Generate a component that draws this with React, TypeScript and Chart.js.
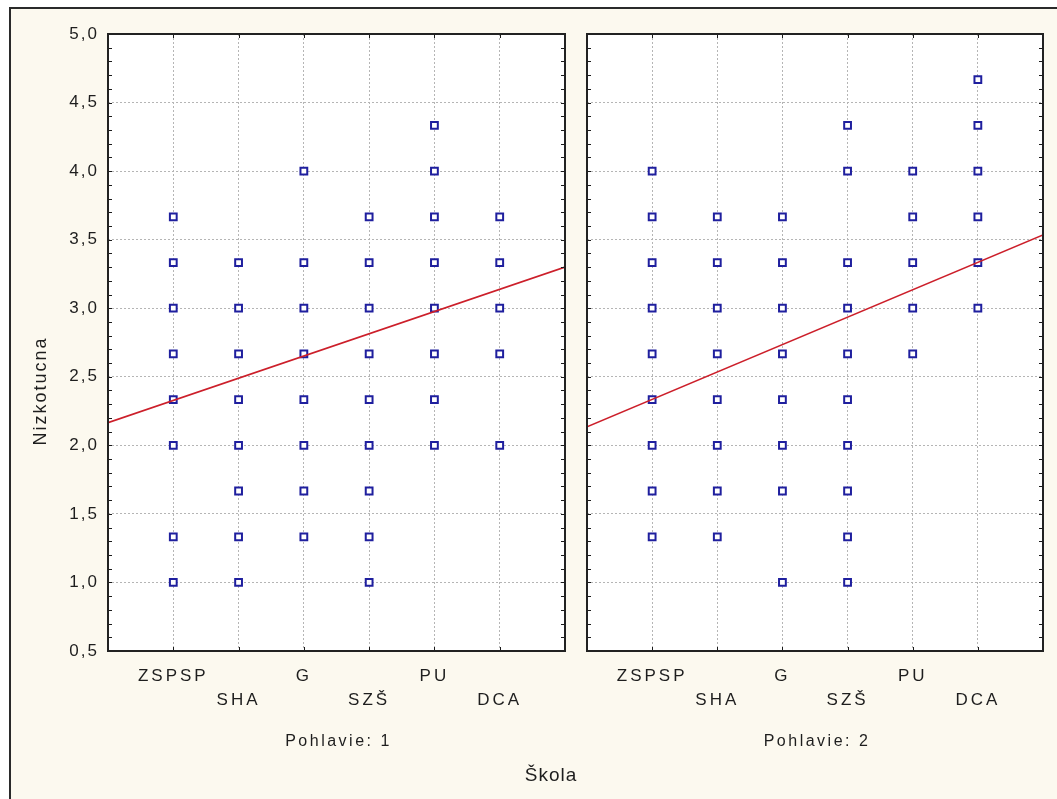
import React, { useEffect, useRef } from 'react';
import { Chart, registerables } from 'chart.js';

Chart.register(...registerables);

// School categories along the x axis (placed at 1..6 on a 0..7 linear scale)
const categories = ['ZSPSP', 'SHA', 'G', 'SZŠ', 'PU', 'DCA'];

// Y axis ticks
const yTickValues = [0.5, 1, 1.5, 2, 2.5, 3, 3.5, 4, 4.5, 5];
const yTickLabels = ['0,5', '1,0', '1,5', '2,0', '2,5', '3,0', '3,5', '4,0', '4,5', '5,0'];

// Nizkotucna scores observed in each school, Pohlavie: 1
const pohlavie1 = [
  [3.667, 3.333, 3.0, 2.667, 2.333, 2.0, 1.333, 1.0],
  [3.333, 3.0, 2.667, 2.333, 2.0, 1.667, 1.333, 1.0],
  [4.0, 3.333, 3.0, 2.667, 2.333, 2.0, 1.667, 1.333],
  [3.667, 3.333, 3.0, 2.667, 2.333, 2.0, 1.667, 1.333, 1.0],
  [4.333, 4.0, 3.667, 3.333, 3.0, 2.667, 2.333, 2.0],
  [3.667, 3.333, 3.0, 2.667, 2.0],
];

// Nizkotucna scores observed in each school, Pohlavie: 2
const pohlavie2 = [
  [4.0, 3.667, 3.333, 3.0, 2.667, 2.333, 2.0, 1.667, 1.333],
  [3.667, 3.333, 3.0, 2.667, 2.333, 2.0, 1.667, 1.333],
  [3.667, 3.333, 3.0, 2.667, 2.333, 2.0, 1.667, 1.0],
  [4.333, 4.0, 3.333, 3.0, 2.667, 2.333, 2.0, 1.667, 1.333, 1.0],
  [4.0, 3.667, 3.333, 3.0, 2.667],
  [4.667, 4.333, 4.0, 3.667, 3.333, 3.0],
];

// Linear fit end points across the full x range
const fitX = [0, 7];
const fit1 = [2.165, 3.3];
const fit2 = [2.135, 3.535];

const FONT = '"Liberation Sans", Arial, Helvetica, sans-serif';
const H = 799;

type PanelProps = {
  values: number[][];
  fit: number[];
  title: string;
  left: number;
  width: number;
  padRight: number;
  yWidth: number;
  showYLabels: boolean;
};

function makeDecor(title: string, showYLabels: boolean) {
  return {
    id: 'panelDecor',
    beforeDraw(chart: any) {
      const { ctx, chartArea: a } = chart;
      ctx.save();
      ctx.fillStyle = '#ffffff';
      ctx.fillRect(a.left, a.top, a.right - a.left, a.bottom - a.top);
      ctx.restore();
    },
    afterDraw(chart: any) {
      const { ctx, chartArea: a, scales } = chart;
      const xs = scales.x;
      const ys = scales.y;
      ctx.save();

      // inward tick marks
      ctx.strokeStyle = '#1a1a1a';
      ctx.lineWidth = 1;
      ctx.beginPath();
      for (let k = 5; k <= 50; k++) {
        const y = Math.round(ys.getPixelForValue(k / 10)) + 0.5;
        ctx.moveTo(a.left, y);
        ctx.lineTo(a.left + 4, y);
        ctx.moveTo(a.right, y);
        ctx.lineTo(a.right - 4, y);
      }
      categories.forEach((_, i) => {
        const x = Math.round(xs.getPixelForValue(i + 1)) + 0.5;
        ctx.moveTo(x, a.top);
        ctx.lineTo(x, a.top + 4);
        ctx.moveTo(x, a.bottom);
        ctx.lineTo(x, a.bottom - 4);
      });
      ctx.stroke();

      // plot frame
      ctx.lineWidth = 2;
      ctx.strokeStyle = '#222222';
      ctx.strokeRect(a.left, a.top, a.right - a.left, a.bottom - a.top);

      // category labels, staggered on two rows
      ctx.fillStyle = '#1e1e1e';
      ctx.font = `17px ${FONT}`;
      (ctx as any).letterSpacing = '3px';
      ctx.textAlign = 'center';
      ctx.textBaseline = 'middle';
      categories.forEach((c, i) => {
        const x = xs.getPixelForValue(i + 1);
        const y = a.bottom + (i % 2 === 0 ? 25 : 49);
        ctx.fillText(c, x, y);
      });

      // y tick labels
      if (showYLabels) {
        (ctx as any).letterSpacing = '2px';
        ctx.textAlign = 'right';
        yTickValues.forEach((v, i) => {
          ctx.fillText(yTickLabels[i], a.left - 9, ys.getPixelForValue(v));
        });

        // y axis title
        ctx.save();
        ctx.font = `18px ${FONT}`;
        (ctx as any).letterSpacing = '2px';
        ctx.translate(41, 391);
        ctx.rotate(-Math.PI / 2);
        ctx.textAlign = 'center';
        ctx.fillText('Nizkotucna', 0, 0);
        ctx.restore();
      }

      // panel title
      ctx.font = `16px ${FONT}`;
      (ctx as any).letterSpacing = '2.5px';
      ctx.textAlign = 'center';
      ctx.fillText(title, (a.left + a.right) / 2 + 2, a.bottom + 91);

      ctx.restore();
    },
  };
}

function Panel({ values, fit, title, left, width, padRight, yWidth, showYLabels }: PanelProps) {
  const ref = useRef<HTMLCanvasElement>(null);

  useEffect(() => {
    const points = values.flatMap((col, i) => col.map((v) => ({ x: i + 1, y: v })));
    const fitPoints = fitX.map((x, i) => ({ x, y: fit[i] }));
    const gridDash = [2, 2];

    const chart = new Chart(ref.current as HTMLCanvasElement, {
      type: 'scatter',
      data: {
        datasets: [
          {
            type: 'line',
            data: fitPoints,
            borderColor: '#cc1f2a',
            borderWidth: 1.6,
            pointRadius: 0,
            fill: false,
            tension: 0,
            order: 0,
          } as any,
          {
            data: points,
            pointStyle: 'rect',
            pointRadius: 4.8,
            borderWidth: 2,
            borderColor: '#1f1f9e',
            backgroundColor: '#ffffff',
            order: 1,
          },
        ],
      },
      options: {
        animation: false,
        responsive: false,
        maintainAspectRatio: false,
        layout: { autoPadding: false, padding: { top: 34, left: 0, right: padRight, bottom: 0 } },
        plugins: { legend: { display: false }, tooltip: { enabled: false } },
        events: [],
        scales: {
          x: {
            type: 'linear',
            min: 0,
            max: 7,
            afterBuildTicks: (s: any) => {
              s.ticks = categories.map((_, i) => ({ value: i + 1 }));
            },
            afterFit: (s: any) => {
              s.height = 148;
            },
            ticks: { display: false },
            grid: { color: '#b5b5b5', lineWidth: 1, drawTicks: false },
            border: { display: false, dash: gridDash },
          },
          y: {
            type: 'linear',
            min: 0.5,
            max: 5,
            afterBuildTicks: (s: any) => {
              s.ticks = yTickValues.map((v) => ({ value: v }));
            },
            afterFit: (s: any) => {
              s.width = yWidth;
            },
            ticks: { display: false },
            grid: { color: '#b5b5b5', lineWidth: 1, drawTicks: false },
            border: { display: false, dash: gridDash },
          },
        },
      } as any,
      plugins: [makeDecor(title, showYLabels)],
    });
    return () => chart.destroy();
  }, []);

  return (
    <canvas
      ref={ref}
      width={width}
      height={H}
      style={{ position: 'absolute', left, top: 0, width, height: H }}
    />
  );
}

export default function App() {
  return (
    <div
      style={{
        position: 'absolute',
        left: 0,
        top: 0,
        width: 1057,
        height: H,
        overflow: 'hidden',
        background: '#ffffff',
        fontFamily: FONT,
      }}
    >
      <div
        style={{
          position: 'absolute',
          left: 9,
          top: 7,
          right: 0,
          bottom: 0,
          background: '#fcf9ef',
          borderTop: '2px solid #2a2a2a',
          borderLeft: '2px solid #2a2a2a',
        }}
      />
      <Panel
        values={pohlavie1}
        fit={fit1}
        title="Pohlavie: 1"
        left={0}
        width={587}
        padRight={22}
        yWidth={108}
        showYLabels={true}
      />
      <Panel
        values={pohlavie2}
        fit={fit2}
        title="Pohlavie: 2"
        left={585}
        width={472}
        padRight={14}
        yWidth={2}
        showYLabels={false}
      />
      <div
        style={{
          position: 'absolute',
          left: 451,
          width: 200,
          top: 764,
          textAlign: 'center',
          fontSize: 19,
          lineHeight: '22px',
          letterSpacing: 1,
          color: '#1e1e1e',
        }}
      >
        Škola
      </div>
    </div>
  );
}
